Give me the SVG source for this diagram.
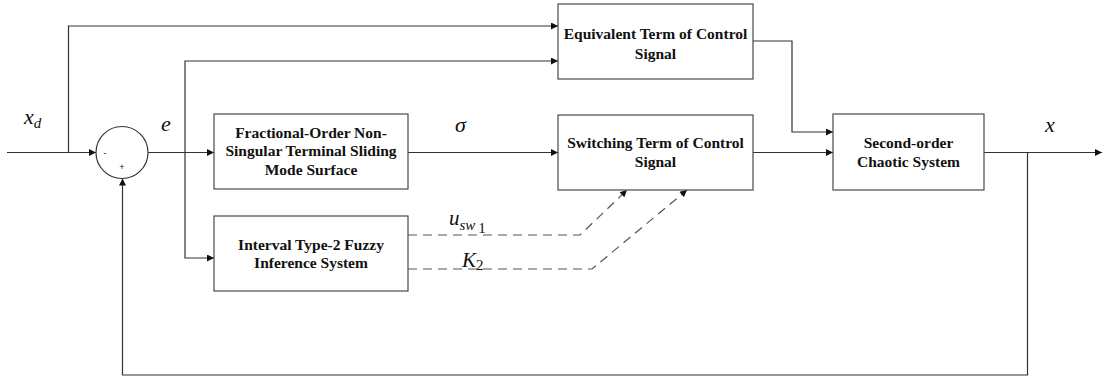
<svg xmlns="http://www.w3.org/2000/svg" width="1103" height="379" viewBox="0 0 1103 379">
<defs>
<marker id="arr" viewBox="0 0 10 10" refX="10" refY="5" markerWidth="9" markerHeight="7" markerUnits="userSpaceOnUse" orient="auto">
<path d="M0,0 L10,5 L0,10 z" fill="#111"/>
</marker>
</defs>
<style>
.box{fill:#fff;stroke:#4a4a4a;stroke-width:1.2}
.ln{fill:none;stroke:#333;stroke-width:1.2}
.dash{fill:none;stroke:#555;stroke-width:1.2;stroke-dasharray:9,6}
.bt{font-family:"Liberation Serif",serif;font-weight:bold;font-size:15.5px;fill:#111;text-anchor:middle}
.m{font-family:"Liberation Serif",serif;font-style:italic;fill:#111}
.sg{font-family:"Liberation Sans",sans-serif;font-size:9px;fill:#111;text-anchor:middle}
</style>
<rect width="1103" height="379" fill="#fff"/>
<g id="connectors">
<path class="ln" d="M7,152.5 H96" marker-end="url(#arr)"/>
<path class="ln" d="M68.5,152.5 V26 H558" marker-end="url(#arr)"/>
<path class="ln" d="M148,152.5 H214" marker-end="url(#arr)"/>
<path class="ln" d="M185,152.5 V61 H558" marker-end="url(#arr)"/>
<path class="ln" d="M185,152.5 V258 H214" marker-end="url(#arr)"/>
<path class="ln" d="M408,152.5 H558" marker-end="url(#arr)"/>
<path class="ln" d="M753,41 H792 V132 H833" marker-end="url(#arr)"/>
<path class="ln" d="M753,152.5 H833" marker-end="url(#arr)"/>
<path class="ln" d="M984,152.5 H1102" marker-end="url(#arr)"/>
<path class="ln" d="M1027.5,152.5 V375 H122.5 V178.5" marker-end="url(#arr)"/>
<path class="dash" d="M408,235 H580 L627,190" marker-end="url(#arr)"/>
<path class="dash" d="M408,269 H592 L687,190" marker-end="url(#arr)"/>
</g>
<g id="sum">
<circle cx="122" cy="152.5" r="26" fill="#fff" stroke="#333" stroke-width="1.2"/>
<text class="sg" x="105" y="156">-</text>
<text class="sg" x="122" y="170">+</text>
</g>
<g id="equivalent">
<rect class="box" x="558" y="4" width="195" height="75"/>
<text class="bt" x="655.5" y="39">Equivalent Term of Control</text>
<text class="bt" x="655.5" y="59">Signal</text>
</g>
<g id="fractional">
<rect class="box" x="214" y="114" width="194" height="75"/>
<text class="bt" x="311" y="137.5">Fractional-Order Non-</text>
<text class="bt" x="311" y="156">Singular Terminal Sliding</text>
<text class="bt" x="311" y="174.5">Mode Surface</text>
</g>
<g id="switching">
<rect class="box" x="558" y="115" width="195" height="75"/>
<text class="bt" x="655.5" y="148">Switching Term of Control</text>
<text class="bt" x="655.5" y="167">Signal</text>
</g>
<g id="fuzzy">
<rect class="box" x="214" y="216" width="194" height="75"/>
<text class="bt" x="311" y="249.5">Interval Type-2 Fuzzy</text>
<text class="bt" x="311" y="268">Inference System</text>
</g>
<g id="plant">
<rect class="box" x="833" y="114" width="151" height="76"/>
<text class="bt" x="908.5" y="148">Second-order</text>
<text class="bt" x="908.5" y="167">Chaotic System</text>
</g>
<g id="labels">
<text class="m" x="24" y="124" font-size="22">x<tspan font-size="15" dy="4">d</tspan></text>
<text class="m" x="161" y="131" font-size="22">e</text>
<text class="m" x="455" y="131.5" font-size="22">σ</text>
<text class="m" x="1045" y="131.5" font-size="22">x</text>
<text class="m" x="449" y="225" font-size="21">u<tspan font-size="15" dy="5">sw</tspan><tspan font-size="15" font-style="normal" dx="3" dy="3">1</tspan></text>
<text class="m" x="462" y="267" font-size="21">K<tspan font-size="15" font-style="normal" dy="3">2</tspan></text>
</g>
</svg>
